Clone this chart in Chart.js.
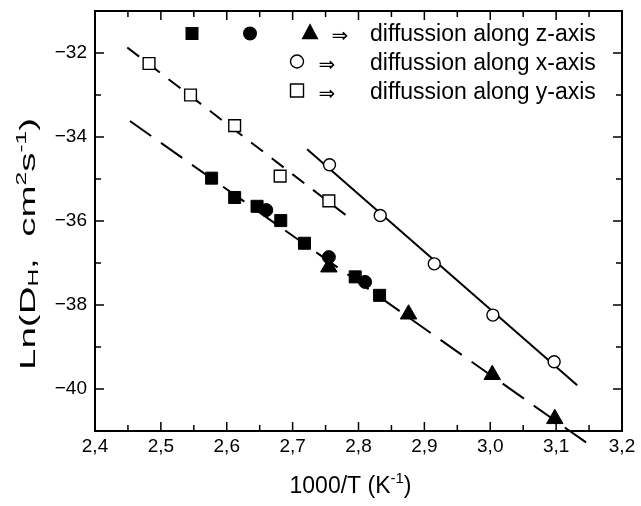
<!DOCTYPE html>
<html>
<head>
<meta charset="utf-8">
<script src="https://cdn.jsdelivr.net/npm/chart.js@4.4.0/dist/chart.umd.min.js"></script>
<style>
    html, body { margin: 0; padding: 0; background: #fff; }
</style>
</head>
<body>
<canvas id="diffusion-chart" width="641" height="506"></canvas>
<script>
    "use strict";

    // z-axis diffusion: three kinds of filled markers
    const zSquareX = [2.577, 2.612, 2.646, 2.682, 2.718, 2.795, 2.832];
    const zSquareY = [-34.98, -35.44, -35.65, -35.99, -36.53, -37.33, -37.77];
    const zCircleX = [2.660, 2.755, 2.810];
    const zCircleY = [-35.74, -36.86, -37.45];
    const zTriangleX = [2.755, 2.876, 3.003, 3.098];
    const zTriangleY = [-37.10, -38.22, -39.66, -40.71];

    // x-axis diffusion (open circles), y-axis diffusion (open squares)
    const xCircleX = [2.756, 2.833, 2.915, 3.004, 3.097];
    const xCircleY = [-34.66, -35.87, -37.02, -38.24, -39.35];
    const ySquareX = [2.482, 2.545, 2.612, 2.681, 2.755];
    const ySquareY = [-32.25, -33.00, -33.73, -34.93, -35.52];

    // fitted lines, end points
    const zFitX = [2.453, 3.157];
    const zFitY = [-33.62, -41.40];
    const xFitX = [2.722, 3.132];
    const xFitY = [-34.29, -39.91];
    const yFitX = [2.449, 2.785];
    const yFitY = [-31.87, -35.91];

    // tick labels
    const xTickValues = [2.4, 2.5, 2.6, 2.7, 2.8, 2.9, 3.0, 3.1, 3.2];
    const xTickLabels = ['2,4', '2,5', '2,6', '2,7', '2,8', '2,9', '3,0', '3,1', '3,2'];
    const yTickValues = [-32, -34, -36, -38, -40];
    const yTickLabels = ['\u221232', '\u221234', '\u221236', '\u221238', '\u221240'];

    const legendRows = [
        {symbols: ['rect', 'circle', 'triangle'], open: false, text: 'diffussion along z-axis'},
        {symbols: ['circle'], open: true, text: 'diffussion along x-axis'},
        {symbols: ['rect'], open: true, text: 'diffussion along y-axis'}
    ];

    const FONT = '"Liberation Sans", Arial, Helvetica, sans-serif';

    function pts(xs, ys) {
        return xs.map((v, i) => ({x: v, y: ys[i]}));
    }

    function markerSet(label, xs, ys, style, radius, open) {
        return {
            label: label,
            data: pts(xs, ys),
            pointStyle: style,
            pointRadius: radius,
            pointHoverRadius: radius,
            backgroundColor: open ? '#fff' : '#000',
            borderColor: '#000',
            borderWidth: open ? 1.4 : 1,
            order: 0
        };
    }

    function fitSet(label, xs, ys, dash) {
        return {
            label: label,
            data: pts(xs, ys),
            showLine: true,
            pointRadius: 0,
            borderColor: '#000',
            borderWidth: 2,
            borderDash: dash,
            clip: false,
            order: 1
        };
    }

    function shape(ctx, style, x, y, size, open) {
        ctx.beginPath();
        if (style === 'rect') {
            ctx.rect(x - size / 2, y - size / 2, size, size);
        } else if (style === 'circle') {
            ctx.arc(x, y, size / 2, 0, Math.PI * 2);
        } else {
            ctx.moveTo(x, y - size * 0.55);
            ctx.lineTo(x + size / 2, y + size * 0.4);
            ctx.lineTo(x - size / 2, y + size * 0.4);
            ctx.closePath();
        }
        if (open) {
            ctx.fillStyle = '#fff';
            ctx.fill();
            ctx.lineWidth = 1.4;
            ctx.stroke();
        } else {
            ctx.fillStyle = '#000';
            ctx.fill();
        }
    }

    // text with sub/superscript pieces: [text, sizeFactor, shift]
    function richWidth(ctx, parts, size) {
        let w = 0;
        parts.forEach(p => {
            ctx.font = Math.round(size * p[1]) + 'px ' + FONT;
            w += ctx.measureText(p[0]).width;
        });
        return w;
    }

    function richText(ctx, parts, x, y, size) {
        parts.forEach(p => {
            ctx.font = Math.round(size * p[1]) + 'px ' + FONT;
            ctx.fillText(p[0], x, y + p[2] * size);
            x += ctx.measureText(p[0]).width;
        });
    }

    const framePlugin = {
        id: 'frameTicks',
        afterDraw(chart) {
            const ctx = chart.ctx;
            const a = chart.chartArea;
            const xs = chart.scales.x;
            const ys = chart.scales.y;
            ctx.save();
            ctx.strokeStyle = '#000';
            ctx.fillStyle = '#000';

            // inward ticks on all four sides
            ctx.lineWidth = 1.5;
            ctx.beginPath();
            xs.ticks.forEach(t => {
                const px = xs.getPixelForValue(t.value);
                const major = Math.round(t.value * 100) % 10 === 0;
                const len = major ? 9 : 6;
                ctx.moveTo(px, a.bottom);
                ctx.lineTo(px, a.bottom - len);
                ctx.moveTo(px, a.top);
                ctx.lineTo(px, a.top + len);
            });
            ys.ticks.forEach(t => {
                const py = ys.getPixelForValue(t.value);
                const major = Math.round(t.value) % 2 === 0;
                const len = major ? 9 : 6;
                ctx.moveTo(a.left, py);
                ctx.lineTo(a.left + len, py);
                ctx.moveTo(a.right, py);
                ctx.lineTo(a.right - len, py);
            });
            ctx.stroke();

            ctx.lineWidth = 2;
            ctx.strokeRect(a.left, a.top, a.right - a.left, a.bottom - a.top);

            // legend inside the plot
            ctx.strokeStyle = '#000';
            legendRows.forEach((row, i) => {
                const cy = a.top + 22.5 + i * 29;
                if (i === 0) {
                    shape(ctx, 'rect', a.left + 97, cy, 13, false);
                    shape(ctx, 'circle', a.left + 155, cy, 14, false);
                    shape(ctx, 'triangle', a.left + 215, cy - 1, 17, false);
                } else {
                    shape(ctx, row.symbols[0], a.left + 202, cy - 1, 13, true);
                }
                ctx.fillStyle = '#000';
                ctx.textBaseline = 'middle';
                ctx.textAlign = 'center';
                ctx.font = '20px "DejaVu Sans", sans-serif';
                ctx.fillText('\u21d2', a.left + (i === 0 ? 245 : 232), cy + 3);
                ctx.textAlign = 'left';
                ctx.font = '23px ' + FONT;
                ctx.fillText(row.text, a.left + 275, cy + 1);
            });

            // axis titles
            ctx.textBaseline = 'alphabetic';
            ctx.textAlign = 'left';
            const xTitle = [['1000/T (K', 1, 0], ['-1', 0.65, -0.42], [')', 1, 0]];
            const xw = richWidth(ctx, xTitle, 23);
            richText(ctx, xTitle, (a.left + a.right) / 2 - 8 - xw / 2, 493, 23);

            // the y title is stretched along its length in the original
            const yTitle = [['Ln(D', 1, 0], ['H', 0.65, 0.12], [',  cm', 1, 0], ['2', 0.65, -0.42],
                ['s', 1, 0], ['-1', 0.65, -0.42], [')', 1, 0]];
            const yw = richWidth(ctx, yTitle, 22);
            ctx.translate(35, 244);
            ctx.rotate(-Math.PI / 2);
            ctx.scale(1.75, 1);
            richText(ctx, yTitle, -yw / 2, 0, 22);
            ctx.restore();
        }
    };

    const canvas = document.getElementById('diffusion-chart');
    new Chart(canvas, {
        type: 'scatter',
        data: {
            datasets: [
                markerSet('z squares', zSquareX, zSquareY, 'rect', 8.5, false),
                markerSet('z circles', zCircleX, zCircleY, 'circle', 6.5, false),
                markerSet('z triangles', zTriangleX, zTriangleY, 'triangle', 9.5, false),
                markerSet('x circles', xCircleX, xCircleY, 'circle', 6, true),
                markerSet('y squares', ySquareX, ySquareY, 'rect', 8.3, true),
                fitSet('z fit', zFitX, zFitY, [26, 12]),
                fitSet('x fit', xFitX, xFitY, []),
                fitSet('y fit', yFitX, yFitY, [15, 11])
            ]
        },
        options: {
            responsive: false,
            animation: false,
            devicePixelRatio: 1,
            layout: {
                padding: {top: 11, right: 19, left: 0, bottom: 0}
            },
            plugins: {
                legend: {display: false},
                tooltip: {enabled: false}
            },
            scales: {
                x: {
                    type: 'linear',
                    min: 2.4,
                    max: 3.2,
                    afterFit: s => { s.height = 75; s.paddingLeft = 0; s.paddingRight = 0; },
                    grid: {display: false, drawTicks: false},
                    border: {display: false},
                    ticks: {
                        stepSize: 0.05,
                        autoSkip: false,
                        maxRotation: 0,
                        padding: 4,
                        color: '#000',
                        font: {family: FONT, size: 19},
                        callback: v => {
                            const i = xTickValues.findIndex(t => Math.abs(t - v) < 1e-6);
                            return i < 0 ? '' : xTickLabels[i];
                        }
                    }
                },
                y: {
                    type: 'linear',
                    min: -41,
                    max: -31,
                    afterFit: s => { s.width = 95; s.paddingTop = 0; s.paddingBottom = 0; },
                    grid: {display: false, drawTicks: false},
                    border: {display: false},
                    ticks: {
                        stepSize: 1,
                        autoSkip: false,
                        padding: 8,
                        color: '#000',
                        font: {family: FONT, size: 19},
                        callback: v => {
                            const i = yTickValues.findIndex(t => Math.abs(t - v) < 1e-6);
                            return i < 0 ? '' : yTickLabels[i];
                        }
                    }
                }
            }
        },
        plugins: [framePlugin]
    });
</script>
</body>
</html>
